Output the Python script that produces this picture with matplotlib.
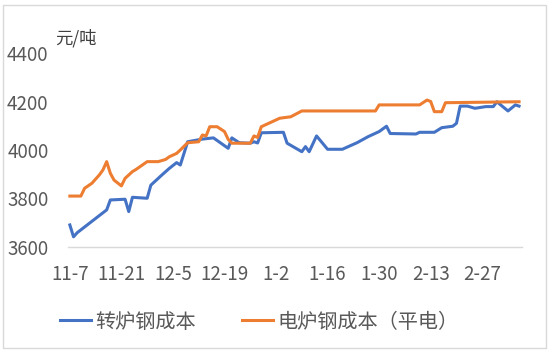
import pandas as pd
import matplotlib
matplotlib.use("Agg")
import matplotlib.pyplot as plt
from matplotlib.patches import Rectangle

plt.rcParams['font.family'] = ['Noto Sans CJK SC', 'DejaVu Sans']

# 转炉钢成本 (blue)
bof_dates = ['2022-11-07', '2022-11-08', '2022-11-09', '2022-11-17', '2022-11-18',
             '2022-11-22', '2022-11-23', '2022-11-24', '2022-11-28', '2022-11-29',
             '2022-12-01', '2022-12-02', '2022-12-04', '2022-12-06', '2022-12-07',
             '2022-12-09', '2022-12-13', '2022-12-16', '2022-12-20', '2022-12-21',
             '2022-12-23', '2022-12-26', '2022-12-27', '2022-12-28', '2022-12-29',
             '2023-01-04', '2023-01-05', '2023-01-09', '2023-01-10', '2023-01-11',
             '2023-01-13', '2023-01-16', '2023-01-20', '2023-01-24', '2023-01-27',
             '2023-01-30', '2023-02-01', '2023-02-02', '2023-02-09', '2023-02-10',
             '2023-02-14', '2023-02-16', '2023-02-19', '2023-02-20', '2023-02-21',
             '2023-02-23', '2023-02-25', '2023-02-28', '2023-03-02', '2023-03-03',
             '2023-03-04', '2023-03-06', '2023-03-08', '2023-03-09']
bof_cost = [3691, 3642, 3659, 3753, 3794,
            3797, 3746, 3805, 3801, 3855,
            3883, 3897, 3924, 3948, 3938,
            4034, 4045, 4050, 4007, 4050,
            4030, 4028, 4034, 4029, 4071,
            4073, 4028, 3993, 4014, 3993,
            4058, 4003, 4003, 4030, 4055,
            4076, 4098, 4068, 4066, 4073,
            4073, 4092, 4098, 4110, 4181,
            4181, 4172, 4179, 4179, 4199,
            4186, 4161, 4186, 4181]

# 电炉钢成本（平电） (orange)
eaf_dates = ['2022-11-07', '2022-11-10', '2022-11-11', '2022-11-13', '2022-11-15',
             '2022-11-16', '2022-11-17', '2022-11-18', '2022-11-19', '2022-11-21',
             '2022-11-22', '2022-11-24', '2022-11-25', '2022-11-28', '2022-12-01',
             '2022-12-03', '2022-12-04', '2022-12-06', '2022-12-07', '2022-12-09',
             '2022-12-12', '2022-12-13', '2022-12-14', '2022-12-15', '2022-12-17',
             '2022-12-19', '2022-12-20', '2022-12-21', '2022-12-26', '2022-12-27',
             '2022-12-28', '2022-12-29', '2022-12-31', '2023-01-03', '2023-01-06',
             '2023-01-09', '2023-01-29', '2023-01-30', '2023-02-10', '2023-02-12',
             '2023-02-13', '2023-02-14', '2023-02-16', '2023-02-17', '2023-03-09']
eaf_cost = [3810, 3810, 3842, 3863, 3897,
            3918, 3952, 3904, 3876, 3852,
            3883, 3911, 3920, 3952, 3952,
            3961, 3972, 3986, 4000, 4030,
            4034, 4062, 4058, 4096, 4096,
            4076, 4044, 4028, 4028, 4058,
            4052, 4096, 4110, 4131, 4137,
            4161, 4161, 4186, 4186, 4206,
            4200, 4158, 4158, 4195, 4199]

tick_labels = ['11-7', '11-21', '12-5', '12-19', '1-2', '1-16', '1-30', '2-13', '2-27']
y_ticks = [3600, 3800, 4000, 4200, 4400]

start = pd.Timestamp('2022-11-07')
bof_x = (pd.to_datetime(bof_dates) - start).days
eaf_x = (pd.to_datetime(eaf_dates) - start).days

W, H = 556, 357
fig = plt.figure(figsize=(W / 100, H / 100), dpi=100)
ax = fig.add_axes([68 / W, 1 - 247 / H, (522 - 68) / W, (247 - 53) / H])

ax.plot(bof_x, bof_cost, color='#4472C4', lw=2.2, solid_joinstyle='round', label='转炉钢成本')
ax.plot(eaf_x, eaf_cost, color='#ED7D31', lw=2.2, solid_joinstyle='round', label='电炉钢成本（平电）')

ax.set_xlim(-0.5, 122.8)
ax.set_ylim(3600, 4400)
ax.set_xticks(range(0, 14 * len(tick_labels), 14))
ax.set_xticklabels(tick_labels)
ax.set_yticks(y_ticks)
ax.tick_params(axis='x', length=0, pad=12, labelsize=13.5, colors='#595959')
ax.tick_params(axis='y', length=0, pad=14, labelsize=13.5, colors='#595959')
for s in ['top', 'right', 'left']:
    ax.spines[s].set_visible(False)
ax.spines['bottom'].set_color('#d9d9d9')
ax.spines['bottom'].set_linewidth(1)

fig.text(55 / W, 1 - 38 / H, '元/吨', fontsize=12.5, color='#404040', va='center', ha='left')

fig.legend(loc='center', bbox_to_anchor=(259 / W, 1 - 322 / H), ncol=2, frameon=False,
           fontsize=14.5, handlelength=1.55, handletextpad=0.2, columnspacing=2.3,
           borderpad=0, borderaxespad=0, labelcolor='#595959')

fig.patches.append(Rectangle((3 / W, 1 - 348 / H), (546 - 3) / W, (348 - 5) / H,
                             transform=fig.transFigure, fill=False,
                             edgecolor='#d9d9d9', lw=1))

fig.savefig('out.png', dpi=100)
